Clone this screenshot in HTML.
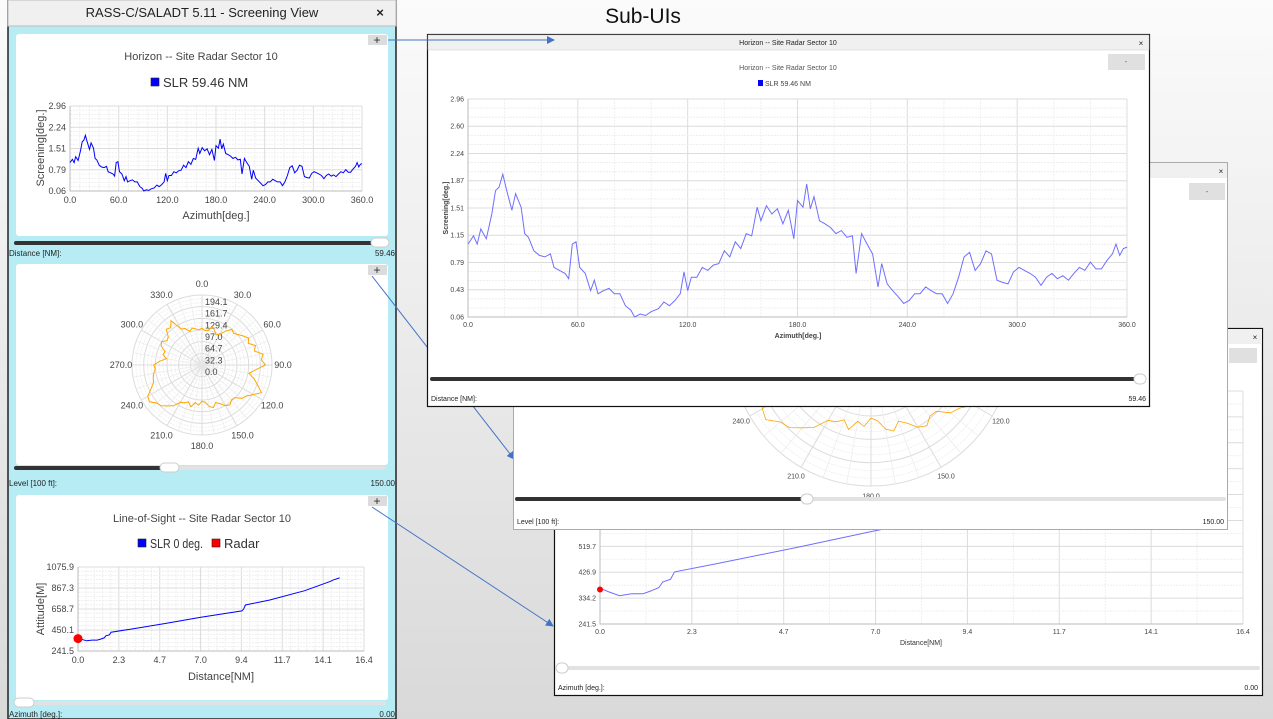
<!DOCTYPE html>
<html><head><meta charset="utf-8"><style>
html,body{margin:0;padding:0;width:1273px;height:719px;overflow:hidden;}
svg{display:block;font-family:"Liberation Sans",sans-serif;}
</style></head><body>
<svg id="scene" width="1273" height="719" viewBox="0 0 1273 719" xmlns="http://www.w3.org/2000/svg">
<defs>
<linearGradient id="bgg" x1="0" y1="0" x2="0" y2="1"><stop offset="0" stop-color="#fbfbfb"/><stop offset="1" stop-color="#d9d9d9"/></linearGradient>
<marker id="ah" markerWidth="8" markerHeight="8" refX="7" refY="4" orient="auto" markerUnits="userSpaceOnUse"><path d="M0,0 L8,4 L0,8 z" fill="#4472c4"/></marker>
</defs>
<rect x="0" y="0" width="1273" height="719" fill="url(#bgg)"/>
<text x="643" y="23" font-size="21" text-anchor="middle" fill="#111" font-family="Liberation Sans, sans-serif">Sub-UIs</text>

<g>
<rect x="8" y="0" width="388" height="719" fill="#b8ecf4" stroke="#222" stroke-width="1.5"/>
<rect x="8" y="0" width="388" height="26" fill="#f0f0f0" stroke="#bbb" stroke-width="1"/>
<text x="202" y="17" font-size="13" text-anchor="middle" fill="#222">RASS-C/SALADT 5.11 - Screening View</text>
<text x="380" y="17" font-size="13" font-weight="bold" text-anchor="middle" fill="#222">×</text>
<rect x="16" y="34" width="372" height="202" rx="3" fill="#fff"/>
<rect x="368" y="35" width="19" height="10" fill="#dcdcdc"/>
<text x="377" y="44" font-size="12" text-anchor="middle" fill="#333">+</text>
<text x="201" y="60" font-size="11" text-anchor="middle" fill="#444">Horizon -- Site Radar Sector 10</text>
<rect x="151" y="78" width="8" height="8" fill="#0000ff" stroke="#222" stroke-width="0.6"/>
<text x="163" y="87" font-size="13" fill="#333">SLR 59.46 NM</text>
<g id="h1"></g>
<text x="216" y="219" font-size="11" text-anchor="middle" fill="#444">Azimuth[deg.]</text>
<text x="0" y="0" font-size="11" text-anchor="middle" fill="#444" transform="translate(44,148) rotate(-90)">Screening[deg.]</text>
<rect x="14" y="241" width="372" height="4" rx="2" fill="#333"/>
<rect x="371" y="238" width="18" height="9" rx="4.5" fill="#fff" stroke="#ccc"/>
<text x="9" y="256" font-size="8" fill="#222">Distance [NM]:</text>
<text x="395" y="256" font-size="8" text-anchor="end" fill="#222">59.46</text>

<rect x="16" y="264" width="372" height="201" rx="3" fill="#fff"/>
<rect x="368" y="265" width="19" height="10" fill="#dcdcdc"/>
<text x="377" y="274" font-size="12" text-anchor="middle" fill="#333">+</text>
<g id="p1"></g>
<rect x="14" y="466" width="372" height="4" rx="2" fill="#e2e2e2"/>
<rect x="14" y="466" width="150" height="4" rx="2" fill="#333"/>
<rect x="160" y="463" width="19" height="9" rx="4.5" fill="#fff" stroke="#ccc"/>
<text x="9" y="486" font-size="8" fill="#222">Level [100 ft]:</text>
<text x="395" y="486" font-size="8" text-anchor="end" fill="#222">150.00</text>

<rect x="16" y="495" width="372" height="205" rx="3" fill="#fff"/>
<rect x="368" y="496" width="19" height="10" fill="#dcdcdc"/>
<text x="377" y="505" font-size="12" text-anchor="middle" fill="#333">+</text>
<text x="202" y="522" font-size="11" text-anchor="middle" fill="#444">Line-of-Sight -- Site Radar Sector 10</text>
<rect x="138" y="539" width="8" height="8" fill="#0000ff" stroke="#222" stroke-width="0.6"/>
<text x="150" y="548" font-size="13" fill="#333" textLength="53" lengthAdjust="spacingAndGlyphs">SLR 0 deg.</text>
<rect x="212" y="539" width="8" height="8" fill="#ff0000" stroke="#222" stroke-width="0.6"/>
<text x="224" y="548" font-size="13" fill="#333">Radar</text>
<g id="l1"></g>
<text x="221" y="680" font-size="11" text-anchor="middle" fill="#444">Distance[NM]</text>
<text x="0" y="0" font-size="11" text-anchor="middle" fill="#444" transform="translate(44,609) rotate(-90)">Attitude[M]</text>
<rect x="14" y="701" width="372" height="4" rx="2" fill="#e2e2e2"/>
<rect x="14" y="698" width="20" height="9" rx="4.5" fill="#fff" stroke="#ccc"/>
<text x="9" y="717" font-size="8" fill="#222">Azimuth [deg.]:</text>
<text x="395" y="717" font-size="8" text-anchor="end" fill="#222">0.00</text>
</g>

<line x1="372" y1="276" x2="514" y2="459" stroke="#4472c4" stroke-width="1" marker-end="url(#ah)"/>
<line x1="372" y1="507" x2="553" y2="626" stroke="#4472c4" stroke-width="1" marker-end="url(#ah)"/>

<g>
<rect x="554.5" y="328.5" width="708" height="367" fill="#fff" stroke="#111" stroke-width="1.2"/>
<rect x="555" y="329" width="707" height="15" fill="#f0f0f0"/>
<text x="1255" y="340" font-size="8" text-anchor="middle" fill="#222">×</text>
<rect x="1229" y="348" width="28" height="15" fill="#e0e0e0"/>
<g id="l2"></g>
<text x="921" y="645" font-size="7" text-anchor="middle" fill="#333">Distance[NM]</text>
<rect x="556" y="666" width="704" height="4" rx="2" fill="#e2e2e2"/>
<rect x="556" y="663" width="12" height="10" rx="5" fill="#fff" stroke="#ccc"/>
<text x="558" y="690" font-size="7" fill="#222">Azimuth [deg.]:</text>
<text x="1258" y="690" font-size="7" text-anchor="end" fill="#222">0.00</text>
</g>

<g>
<rect x="513.5" y="162.5" width="714" height="367" fill="#fff" stroke="#aaa" stroke-width="1"/>
<rect x="514" y="163" width="713" height="15" fill="#f0f0f0"/>
<text x="1221" y="174" font-size="8" text-anchor="middle" fill="#222">×</text>
<rect x="1189" y="183" width="36" height="17" fill="#e0e0e0"/>
<text x="1207" y="194" font-size="7" text-anchor="middle" fill="#444">-</text>
<g id="p2"></g>
<rect x="515" y="497" width="711" height="4" rx="2" fill="#e2e2e2"/>
<rect x="515" y="497" width="290" height="4" rx="2" fill="#333"/>
<rect x="801" y="494" width="12" height="10" rx="5" fill="#fff" stroke="#ccc"/>
<text x="517" y="524" font-size="7" fill="#222">Level [100 ft]:</text>
<text x="1224" y="524" font-size="7" text-anchor="end" fill="#222">150.00</text>
</g>

<g>
<rect x="427.5" y="34.5" width="722" height="372" fill="#fff" stroke="#111" stroke-width="1.2"/>
<rect x="428" y="35" width="721" height="15" fill="#f0f0f0" stroke="#ccc" stroke-width="0.5"/>
<text x="788" y="45" font-size="7" text-anchor="middle" fill="#222">Horizon -- Site Radar Sector 10</text>
<text x="1141" y="46" font-size="8" text-anchor="middle" fill="#222">×</text>
<rect x="1108" y="54" width="37" height="16" fill="#e0e0e0"/>
<text x="1126" y="64" font-size="7" text-anchor="middle" fill="#444">-</text>
<text x="788" y="70" font-size="7" text-anchor="middle" fill="#555">Horizon -- Site Radar Sector 10</text>
<rect x="758" y="80" width="5" height="6" fill="#0000ff"/>
<text x="765" y="86" font-size="7" fill="#444">SLR 59.46 NM</text>
<g id="h2"></g>
<text x="798" y="338" font-size="7" font-weight="bold" text-anchor="middle" fill="#444">Azimuth[deg.]</text>
<text x="0" y="0" font-size="7" font-weight="bold" text-anchor="middle" fill="#444" transform="translate(448,208) rotate(-90)">Screening[deg.]</text>
<rect x="430" y="377" width="714" height="4" rx="2" fill="#333"/>
<rect x="1134" y="374" width="12" height="10" rx="5" fill="#fff" stroke="#ccc"/>
<text x="431" y="401" font-size="7" fill="#222">Distance [NM]:</text>
<text x="1146" y="401" font-size="7" text-anchor="end" fill="#222">59.46</text>
</g>

<line x1="388" y1="40" x2="554" y2="40" stroke="#4472c4" stroke-width="1" marker-end="url(#ah)"/>
</svg>
<script>
const azimuth = [0,3,5,7,10,13,15,17,19,21,24,26,29,31,33,36,39,42,45,47,50,53,55,57,59,61,64,67,69,71,74,77,80,83,86,89,91,94,97,100,104,107,110,113,116,118,120,122,125,128,131,134,137,140,143,146,149,152,155,158,160,163,166,169,172,175,178,180,183,185,187,189,192,195,198,201,204,207,210,212,215,218,221,224,226,229,232,235,238,241,244,247,250,253,256,259,262,265,268,271,274,277,280,283,286,289,292,295,298,301,304,307,310,313,316,319,322,325,328,331,334,337,340,343,346,349,352,354,356,358,360];
const screening = [1.03,1.14,1.03,1.23,1.10,1.43,1.74,1.79,1.96,1.76,1.48,1.70,1.52,1.17,1.12,0.94,0.88,0.86,0.90,0.72,0.68,0.64,0.57,1.03,1.06,0.72,0.64,0.41,0.55,0.37,0.41,0.44,0.37,0.37,0.21,0.15,0.06,0.10,0.08,0.13,0.17,0.26,0.21,0.28,0.37,0.66,0.41,0.59,0.59,0.72,0.68,0.75,0.77,0.94,0.86,1.06,0.97,1.17,1.14,1.52,1.34,1.54,1.43,1.50,1.30,1.48,1.10,1.61,1.52,1.83,1.50,1.66,1.34,1.30,1.25,1.17,1.21,1.12,1.14,0.64,1.17,1.03,0.90,0.46,0.77,0.50,0.41,0.33,0.24,0.28,0.37,0.37,0.46,0.41,0.37,0.37,0.24,0.37,0.59,0.86,0.92,0.68,0.77,0.94,0.90,0.55,0.52,0.50,0.66,0.72,0.68,0.64,0.59,0.48,0.59,0.64,0.57,0.61,0.55,0.64,0.72,0.68,0.79,0.70,0.70,0.81,0.90,1.03,0.88,0.97,0.99];
const hXTicksSmall = ['0.0','60.0','120.0','180.0','240.0','300.0','360.0'];
const hYTicksSmall = ['0.06','0.79','1.51','2.24','2.96'];
const hYTicksBig = ['0.06','0.43','0.79','1.15','1.51','1.87','2.24','2.60','2.96'];
const polarAngle = [0,5,10,15,20,25,30,35,40,45,50,55,60,65,70,75,80,85,90,95,100,105,110,115,120,125,130,135,140,145,150,155,160,165,170,175,180,185,190,195,200,205,210,215,220,225,230,235,240,245,250,255,260,265,270,275,280,285,290,295,300,305,310,315,320,325,330,335,340,345,350,355];
const polarRange = [102,96,97,110,102,92,98,115,129,124,131,140,149,142,158,150,172,165,176,150,132,150,164,182,164,150,144,128,127,135,130,118,111,122,117,104,100,112,106,120,109,116,119,138,148,160,164,178,174,156,143,140,136,130,134,118,100,112,109,125,129,118,122,140,135,150,115,112,99,106,102,98];
const polarRings = ['0.0','32.3','64.7','97.0','129.4','161.7','194.1'];
const polarSpokes = ['0.0','30.0','60.0','90.0','120.0','150.0','180.0','210.0','240.0','270.0','300.0','330.0'];
const losDist = [0,0.2,0.5,0.8,1.1,1.3,1.5,1.6,1.8,1.9,3,5,7,9.4,9.5,9.6,11,13,14.5,14.6,15];
const losAlt = [370,358,343,350,350,360,372,392,402,428,458,515,575,640,660,698,748,840,935,945,968];
const losXTicks = ['0.0','2.3','4.7','7.0','9.4','11.7','14.1','16.4'];
const losYTicksSmall = ['241.5','450.1','658.7','867.3','1075.9'];
const losYTicksBig = ['241.5','334.2','426.9','519.7','612.4','705.1','797.8','890.5','983.2','1075.9'];
const radarAlt = [365];

const NS='http://www.w3.org/2000/svg';
function mk(tag,attrs,parent){const e=document.createElementNS(NS,tag);for(const k in attrs)e.setAttribute(k,attrs[k]);parent.appendChild(e);return e;}

function cart(g,c,xs,ys,xt,yt){
  const xmin=parseFloat(xt[0]),xmax=parseFloat(xt[xt.length-1]);
  const ymin=parseFloat(yt[0]),ymax=parseFloat(yt[yt.length-1]);
  const sx=v=>c.x0+(v-xmin)/(xmax-xmin)*(c.x1-c.x0);
  const sy=v=>c.y1-(v-ymin)/(ymax-ymin)*(c.y1-c.y0);
  const nx=(xt.length-1)*c.m, ny=(yt.length-1)*c.m;
  for(let i=0;i<=nx;i++){
    const x=c.x0+i*(c.x1-c.x0)/nx, major=i%c.m===0;
    const l=mk('line',{x1:x,y1:c.y0,x2:x,y2:c.y1,stroke:major?'#dcdcdc':'#ececec','stroke-width':major?1:0.8,'stroke-dasharray':major?'':'2,1'},g);
    
    
  }
  for(let i=0;i<=ny;i++){
    const y=c.y0+i*(c.y1-c.y0)/ny, major=i%c.m===0;
    const l=mk('line',{x1:c.x0,y1:y,x2:c.x1,y2:y,stroke:major?'#dcdcdc':'#ececec','stroke-width':major?1:0.8,'stroke-dasharray':major?'':'2,1'},g);
    
    
  }
  xt.forEach((t,i)=>{
    const x=c.x0+i*(c.x1-c.x0)/(xt.length-1);
    const e=mk('text',{x:x,y:c.y1+c.fs+3,'font-size':c.fs,'text-anchor':'middle',fill:'#444'},g);
    e.textContent=t;
    
    
  });
  yt.forEach((t,i)=>{
    const y=c.y1-i*(c.y1-c.y0)/(yt.length-1);
    const e=mk('text',{x:c.x0-4,y:y+c.fs*0.35,'font-size':c.fs,'text-anchor':'end',fill:'#444'},g);
    e.textContent=t;
    
    
  });
  const ax=mk('path',{d:`M${c.x0},${c.y0} V${c.y1} H${c.x1}`,fill:'none',stroke:'#bbb','stroke-width':1},g);
  
  
  const pts=xs.map((v,i)=>sx(v).toFixed(1)+','+sy(ys[i]).toFixed(1)).join(' ');
  const pl=mk('polyline',{points:pts,fill:'none',stroke:c.color,'stroke-width':c.lw},g);
  
  
  return {sx,sy};
}

function polar(g,c){
  const maxV=parseFloat(polarRings[polarRings.length-1]);
  const sr=v=>v/maxV*c.r;
  const nm=(polarRings.length-1)*3;
  for(let i=1;i<=nm;i++){
    const rr=c.r*i/nm, major=i%3===0;
    const ci=mk('circle',{cx:c.cx,cy:c.cy,r:rr,fill:'none',stroke:major?'#dcdcdc':'#ebebeb','stroke-width':major?1:0.7,'stroke-dasharray':major?'':'2,1'},g);
    
    
  }
  for(let a=0;a<360;a+=10){
    const rad=a*Math.PI/180, major=a%30===0;
    const l=mk('line',{x1:c.cx,y1:c.cy,x2:c.cx+c.r*Math.sin(rad),y2:c.cy-c.r*Math.cos(rad),stroke:major?'#dcdcdc':'#ebebeb','stroke-width':major?1:0.7},g);
    
    
  }
  polarSpokes.forEach((t,i)=>{
    const rad=parseFloat(t)*Math.PI/180;
    const e=mk('text',{x:c.cx+c.lr*Math.sin(rad),y:c.cy-c.lr*Math.cos(rad)+c.fs*0.35,'font-size':c.fs,'text-anchor':'middle',fill:'#444'},g);
    e.textContent=t;
    
    
  });
  if(c.rl){
    polarRings.forEach((t)=>{
      const e=mk('text',{x:c.cx+3,y:c.cy-sr(parseFloat(t))+c.fs+1,'font-size':c.fs,fill:'#444'},g);
      e.textContent=t;
      
      
    });
  }
  const pts=polarAngle.map((a,i)=>{const rad=a*Math.PI/180,rr=sr(polarRange[i]);return (c.cx+rr*Math.sin(rad)).toFixed(1)+','+(c.cy-rr*Math.cos(rad)).toFixed(1);}).join(' ');
  const pg=mk('polygon',{points:pts,fill:'none',stroke:'#ffa500','stroke-width':c.lw},g);
  
  
}

cart(document.getElementById('h1'),{x0:70,x1:362,y0:106,y1:191,m:5,fs:9,color:'#0000ff',lw:1,name:'horizon-series-line'},azimuth,screening,hXTicksSmall,hYTicksSmall);
cart(document.getElementById('h2'),{x0:468,x1:1127,y0:99,y1:317,m:3,fs:7,color:'#6f6fff',lw:1,name:'horizon-window-series-line'},azimuth,screening,hXTicksSmall,hYTicksBig);
polar(document.getElementById('p1'),{cx:202,cy:365,r:70,lr:81,fs:9,lw:1,rl:true});
polar(document.getElementById('p2'),{cx:871,cy:346,r:140,lr:150,fs:7,lw:0.8,rl:false});
const a1=cart(document.getElementById('l1'),{x0:78,x1:364,y0:567,y1:651,m:5,fs:9,color:'#0000ff',lw:1,name:'los-series-line'},losDist,losAlt,losXTicks,losYTicksSmall);
const r1=mk('circle',{cx:a1.sx(0),cy:a1.sy(radarAlt[0]),r:4.5,fill:'#ff0000'},document.getElementById('l1'));


const a2=cart(document.getElementById('l2'),{x0:600,x1:1243,y0:391,y1:624,m:2,fs:7,color:'#6f6fff',lw:1,name:'los-window-series-line'},losDist,losAlt,losXTicks,losYTicksBig);
const r2=mk('circle',{cx:a2.sx(0),cy:a2.sy(radarAlt[0]),r:3,fill:'#ff0000'},document.getElementById('l2'));


</script>
</body></html>
